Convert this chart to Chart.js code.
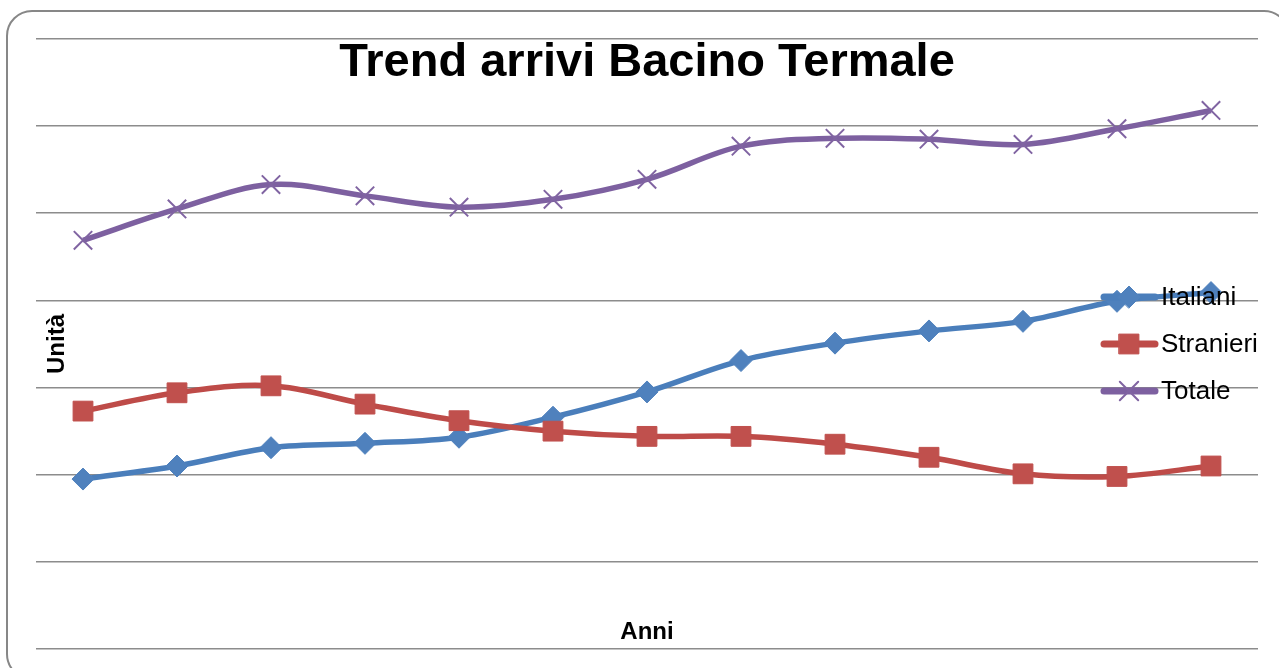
<!DOCTYPE html>
<html>
<head>
<meta charset="utf-8">
<title>Trend arrivi Bacino Termale</title>
<script src="https://cdn.jsdelivr.net/npm/chart.js@4/dist/chart.umd.min.js"></script>
<style>
  html, body { margin: 0; padding: 0; background: #fff; overflow: hidden; }
  canvas { display: block; }
</style>
</head>
<body>
<canvas id="grafico" width="1279" height="668"></canvas>
<script>
// anni (asse x senza etichette)
const anni = ["1997", "1998", "1999", "2000", "2001", "2002", "2003",
              "2004", "2005", "2006", "2007", "2008", "2009"];

// arrivi per anno
const italiani  = [19500, 21000, 23100, 23600, 24300, 26600, 29500, 33100, 35100, 36500, 37600, 39900, 40900];
const stranieri = [27300, 29400, 30200, 28100, 26200, 25000, 24400, 24400, 23500, 22000, 20100, 19800, 21000];
const totale    = [46900, 50500, 53300, 52000, 50700, 51600, 53900, 57700, 58600, 58500, 57900, 59700, 61800];

const yMax = 70000;
const yStep = 10000;

const FONT = '"Liberation Sans", Arial, sans-serif';

// cornice arrotondata attorno al grafico
const cornice = {
    id: "cornice",
    beforeDraw(chart) {
        const ctx = chart.ctx;
        ctx.save();
        ctx.strokeStyle = "#878787";
        ctx.lineWidth = 2;
        ctx.beginPath();
        ctx.roundRect(7, 11, 1282, 668, 25);
        ctx.stroke();
        ctx.restore();
    }
};

// titolo, titoli degli assi e legenda disegnati sopra l'area del grafico
const testi = {
    id: "testi",
    afterDraw(chart) {
        const ctx = chart.ctx;
        const area = chart.chartArea;
        const cx = (area.left + area.right) / 2;
        ctx.save();
        ctx.fillStyle = "#000";

        ctx.font = "bold 47px " + FONT;
        ctx.textAlign = "center";
        ctx.textBaseline = "alphabetic";
        ctx.fillText("Trend arrivi Bacino Termale", cx, 76);

        ctx.font = "bold 24px " + FONT;
        ctx.fillText("Anni", cx, 639);

        ctx.save();
        ctx.translate(57, 344);
        ctx.rotate(-Math.PI / 2);
        ctx.textBaseline = "middle";
        ctx.fillText("Unità", 0, 0);
        ctx.restore();

        // legenda
        let y = 297;
        chart.data.datasets.forEach(ds => {
            ctx.strokeStyle = ds.borderColor;
            ctx.lineWidth = 7;
            ctx.lineCap = "round";
            ctx.beginPath();
            ctx.moveTo(1104, y);
            ctx.lineTo(1155, y);
            ctx.stroke();

            ctx.fillStyle = ds.pointBackgroundColor;
            ctx.strokeStyle = ds.pointBorderColor;
            ctx.lineWidth = ds.pointBorderWidth;
            Chart.helpers.drawPoint(ctx, {
                pointStyle: ds.pointStyle,
                radius: ds.pointRadius,
                borderWidth: ds.pointBorderWidth,
                rotation: 0
            }, 1129, y);

            ctx.fillStyle = "#000";
            ctx.font = "26px " + FONT;
            ctx.textAlign = "left";
            ctx.textBaseline = "middle";
            ctx.fillText(ds.label, 1161, y + 1);
            y += 47;
        });
        ctx.restore();
    }
};

new Chart(document.getElementById("grafico").getContext("2d"), {
    type: "line",
    data: {
        labels: anni,
        datasets: [
            {
                label: "Italiani",
                data: italiani,
                borderColor: "#4A7EBB",
                pointBackgroundColor: "#4F81BD",
                pointBorderColor: "#4F81BD",
                pointStyle: "rectRot",
                pointRadius: 11,
                pointBorderWidth: 1,
                order: 3
            },
            {
                label: "Stranieri",
                data: stranieri,
                borderColor: "#BE4B48",
                pointBackgroundColor: "#C0504D",
                pointBorderColor: "#C0504D",
                pointStyle: "rect",
                pointRadius: 14,
                pointBorderWidth: 1,
                order: 2
            },
            {
                label: "Totale",
                data: totale,
                borderColor: "#7D60A0",
                pointBackgroundColor: "#8064A2",
                pointBorderColor: "#8064A2",
                pointStyle: "crossRot",
                pointRadius: 13,
                pointBorderWidth: 2,
                order: 1
            }
        ]
    },
    options: {
        responsive: false,
        animation: false,
        devicePixelRatio: 1,
        layout: { padding: { left: 36, top: 39, right: 21, bottom: 19 } },
        elements: {
            line: { tension: 0.35, borderWidth: 5.5, fill: false },
            point: { hoverRadius: 11 }
        },
        datasets: { line: { clip: false } },
        plugins: {
            legend: { display: false },
            title: { display: false },
            tooltip: { enabled: false }
        },
        scales: {
            x: {
                display: false,
                offset: true
            },
            y: {
                min: 0,
                max: yMax,
                border: { display: false },
                grid: { color: "#8C8C8C", lineWidth: 1.6, drawTicks: false },
                ticks: { display: false, stepSize: yStep },
                afterFit(scale) { scale.width = 0; }
            }
        }
    },
    plugins: [cornice, testi]
});
</script>
</body>
</html>
